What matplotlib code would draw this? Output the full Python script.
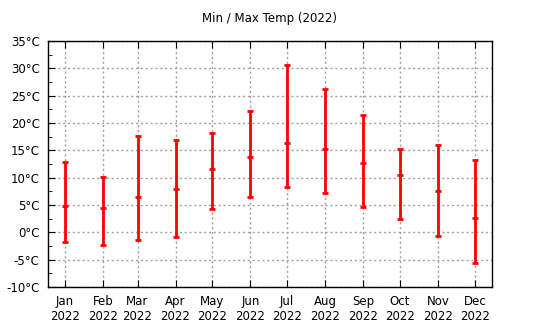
import numpy as np
import matplotlib.pyplot as plt
import matplotlib.dates as mdates
from datetime import date

months = ["Jan", "Feb", "Mar", "Apr", "May", "Jun", "Jul", "Aug", "Sep", "Oct", "Nov", "Dec"]
t_min = [-1.7, -2.3, -1.4, -0.9, 4.3, 6.5, 8.3, 7.2, 4.7, 2.5, -0.6, -5.6]
t_avg = [4.9, 4.5, 6.5, 8.0, 11.5, 13.8, 16.4, 15.3, 12.7, 10.5, 7.6, 2.7]
t_max = [12.8, 10.2, 17.6, 16.9, 18.2, 22.2, 30.7, 26.3, 21.5, 15.3, 16.0, 13.3]

x = [date(2022, m, 15) for m in range(1, 13)]
xn = mdates.date2num(x)
t_min = np.array(t_min)
t_avg = np.array(t_avg)
t_max = np.array(t_max)

fig = plt.figure(figsize=(5.4, 3.3), dpi=100)
ax = fig.add_axes([48/540, 43/330, 444/540, 246/330])

ax.errorbar(xn, t_avg, yerr=[t_avg - t_min, t_max - t_avg], fmt='_', color='#ff0000',
            ecolor='#ff0000', elinewidth=2, capsize=2.5, capthick=2, markersize=5, mew=2)

ax.set_xlim(mdates.date2num(date(2022, 1, 1)), mdates.date2num(date(2022, 12, 29)))
ax.set_ylim(-10, 35)
ax.set_xticks(xn)
ax.set_xticklabels([m + "\n2022" for m in months])
yt = np.arange(-10, 36, 5)
ax.set_yticks(yt)
ax.set_yticklabels(["%d°C" % v for v in yt])
ax.set_yticks(np.arange(-7.5, 35, 5), minor=True)

ax.grid(True, which='major', color='#a0a0a0', linestyle=(0, (1.5, 2)), linewidth=1)
ax.tick_params(axis='both', which='both', direction='in', labelsize=8.5, color='black')
ax.tick_params(axis='x', top=True, length=5, pad=6)
ax.tick_params(axis='y', which='major', length=5, pad=6)
ax.tick_params(axis='y', which='minor', length=3)
for s in ax.spines.values():
    s.set_linewidth(1)

ax.set_title("Min / Max Temp (2022)", fontsize=8.5, pad=14)
fig.savefig("out.png", dpi=100)
